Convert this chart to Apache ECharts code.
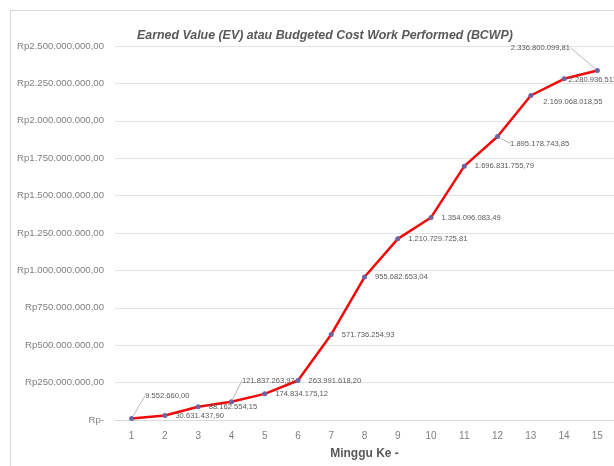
<!DOCTYPE html>
<html>
<head>
<meta charset="utf-8">
<script src="https://cdn.jsdelivr.net/npm/echarts@6/dist/echarts.min.js"></script>
<style>html,body{margin:0;padding:0;background:#fff}#c{width:614px;height:466px}</style>
</head>
<body>
<div id="c"></div>
<script>
const weeks = ['1','2','3','4','5','6','7','8','9','10','11','12','13','14','15'];
const earnedValue = [9552660.00, 30631437.90, 88162554.15, 121837263.97, 174834175.12, 263991618.20, 571736254.93, 955682653.04, 1210729725.81, 1354096083.49, 1696831755.79, 1895178743.85, 2169068018.55, 2280936511.45, 2336800099.81];
const titleText = 'Earned Value (EV) atau Budgeted Cost Work Performed (BCWP)';
const xName = 'Minggu Ke -';

function fmtNum(v) {
  const fixed = v.toFixed(2);
  let [ip, dp] = fixed.split('.');
  ip = ip.replace(/\B(?=(\d{3})+(?!\d))/g, '.');
  return ip + ',' + dp;
}

// label offsets (style only), index -> [dx, dy]
const labelMoves = {0: [3, -23], 3: [0, -21], 11: [2, 7], 12: [2, 6], 13: [-6, 1], 14: [-97, -23]};
const leaderIdx = [0, 3, 11, 14];

const seriesData = earnedValue.map((v, i) => ({
  value: v,
  labelLine: {show: leaderIdx.includes(i)}
}));

const chart = echarts.init(document.getElementById('c'));
chart.setOption({
  animation: false,
  title: {
    text: titleText, left: 132, top: 25,
    textStyle: {fontFamily: 'Liberation Sans', fontSize: 12.4, fontStyle: 'italic', fontWeight: 'bold', color: '#595959'}
  },
  graphic: [{type: 'rect', shape: {x: 10.5, y: 10.5, width: 700, height: 600}, style: {fill: 'none', stroke: '#d9d9d9', lineWidth: 1}, silent: true, z: -1}],
  grid: {left: 115, right: 0, top: 46, bottom: 46},
  xAxis: {
    type: 'category', data: weeks, boundaryGap: true,
    name: xName, nameLocation: 'middle', nameGap: 28,
    nameTextStyle: {fontFamily: 'Liberation Sans', fontSize: 12, fontWeight: 'bold', color: '#595959'},
    axisLine: {lineStyle: {color: '#d9d9d9'}},
    axisTick: {show: false},
    axisLabel: {fontFamily: 'Liberation Sans', fontSize: 10, color: '#808080', margin: 11}
  },
  yAxis: {
    type: 'value', min: 0, max: 2500000000, interval: 250000000,
    axisLine: {show: false}, axisTick: {show: false},
    splitLine: {lineStyle: {color: '#e3e3e3'}},
    axisLabel: {
      fontFamily: 'Liberation Sans', fontSize: 9.6, color: '#808080', margin: 11,
      formatter: v => v === 0 ? 'Rp-' : 'Rp' + fmtNum(v)
    }
  },
  series: [{
    type: 'line', data: seriesData,
    symbol: 'circle', symbolSize: 5,
    itemStyle: {color: '#6f62a0'},
    lineStyle: {color: '#f20a0a', width: 2.5},
    label: {
      show: true, position: 'right', distance: 8,
      fontFamily: 'Liberation Sans', fontSize: 7.6, color: '#595959',
      formatter: p => fmtNum(p.value)
    },
    labelLine: {show: false, lineStyle: {color: '#a6a6a6', width: 0.8}},
    labelLayout: p => {
      const m = labelMoves[p.dataIndex];
      return m ? {dx: m[0], dy: m[1]} : {};
    }
  }]
});
</script>
</body>
</html>
